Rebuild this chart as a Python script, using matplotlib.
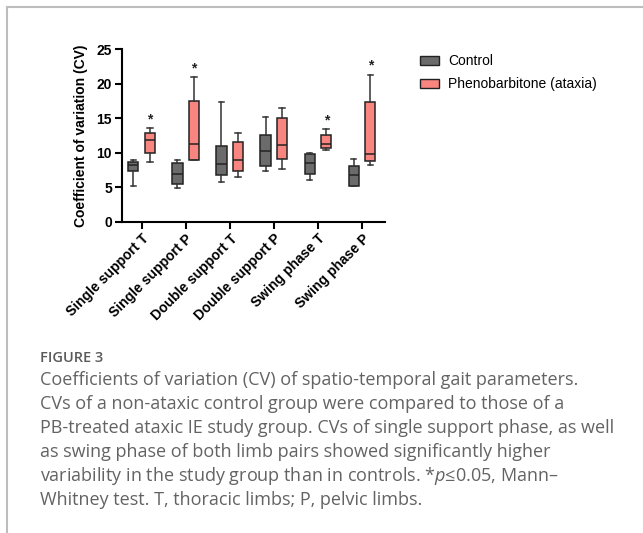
import matplotlib
matplotlib.use("Agg")
import matplotlib.pyplot as plt
from matplotlib.patches import Patch
from matplotlib.lines import Line2D

categories = ["Single support T", "Single support P", "Double support T",
              "Double support P", "Swing phase T", "Swing phase P"]

# whisker low, Q1, median, Q3, whisker high
control_low = [5.2, 4.9, 5.7, 7.4, 6.0, 5.1]
control_q1 = [7.3, 5.4, 6.7, 8.1, 6.95, 5.2]
control_med = [8.2, 6.85, 8.4, 10.3, 8.5, 6.7]
control_q3 = [8.6, 8.5, 10.9, 12.5, 9.85, 8.1]
control_high = [8.9, 8.9, 17.3, 15.1, 9.9, 9.1]

pb_low = [8.7, 8.9, 6.5, 7.6, 10.4, 8.2]
pb_q1 = [10.0, 9.0, 7.3, 9.1, 10.7, 8.8]
pb_med = [11.9, 11.2, 9.0, 11.05, 11.2, 9.75]
pb_q3 = [12.9, 17.5, 11.5, 15.0, 12.5, 17.3]
pb_high = [13.6, 20.9, 12.8, 16.5, 13.4, 21.2]

star_idx = [0, 1, 4, 5]
star_y = [13.85, 21.15, 13.65, 21.55]

caption_title = "FIGURE 3"
caption_lines = [
    "Coefficients of variation (CV) of spatio-temporal gait parameters.",
    "CVs of a non-ataxic control group were compared to those of a",
    "PB-treated ataxic IE study group. CVs of single support phase, as well",
    "as swing phase of both limb pairs showed significantly higher",
    "variability in the study group than in controls. *$p$\u22640.05, Mann\u2013",
    "Whitney test. T, thoracic limbs; P, pelvic limbs.",
]

plt.rcParams["font.family"] = ["Liberation Sans", "DejaVu Sans"]
plt.rcParams["mathtext.fontset"] = "custom"
plt.rcParams["mathtext.it"] = "Open Sans:italic"
plt.rcParams["mathtext.rm"] = "Open Sans"

gray = "#6b6b6b"
salmon = "#f8857f"

fig = plt.figure(figsize=(6.43, 5.33), dpi=100)
ax = fig.add_axes([0.1893, 0.584, 0.41, 0.324])

def stats(low, q1, med, q3, high):
    return [dict(whislo=a, q1=b, med=c, q3=d, whishi=e, fliers=[])
            for a, b, c, d, e in zip(low, q1, med, q3, high)]

off = 0.19
w = 0.23
for data, color, sign in [
        (stats(control_low, control_q1, control_med, control_q3, control_high), gray, -1),
        (stats(pb_low, pb_q1, pb_med, pb_q3, pb_high), salmon, 1)]:
    pos = [i + sign * off for i in range(len(categories))]
    ax.bxp(data, positions=pos, widths=w, patch_artist=True, showfliers=False,
           capwidths=0.13,
           boxprops=dict(facecolor=color, edgecolor="#222222", linewidth=1.1),
           medianprops=dict(color="#222222", linewidth=1.1),
           whiskerprops=dict(color="#333333", linewidth=1.1),
           capprops=dict(color="#333333", linewidth=1.1))

for i, y in zip(star_idx, star_y):
    ax.text(i + off, y, "*", ha="center", va="bottom", fontsize=10,
            fontweight="bold", color="#222222")

ax.set_xlim(-0.455, 5.53)
ax.set_ylim(0, 25)
ax.set_yticks([0, 5, 10, 15, 20, 25])
ax.set_xticks(range(len(categories)))
ax.set_xticklabels(categories, rotation=45, ha="right", rotation_mode="anchor",
                   fontsize=10, fontweight="bold")
for lab in ax.get_yticklabels():
    lab.set_fontweight("bold")
    lab.set_fontsize(10)
ax.set_ylabel("Coefficient of variation (CV)", fontsize=10, fontweight="bold",
              labelpad=6)
for s in ["top", "right"]:
    ax.spines[s].set_visible(False)
for s in ["left", "bottom"]:
    ax.spines[s].set_linewidth(1.5)
ax.tick_params(width=1.5, length=5, pad=2)

handles = [Patch(facecolor=gray, edgecolor="#222222", label="Control"),
           Patch(facecolor=salmon, edgecolor="#222222", label="Phenobarbitone (ataxia)")]
fig.legend(handles=handles, loc="upper left", bbox_to_anchor=(0.653, 0.898),
           frameon=False, fontsize=10, borderpad=0, borderaxespad=0,
           handlelength=1.37, handleheight=0.72, handletextpad=0.65,
           labelspacing=0.65)

# page frame
fig.add_artist(Line2D([0.0105, 1.0], [0.987, 0.987], transform=fig.transFigure,
                      color="#bdbdbd", linewidth=1.5))
fig.add_artist(Line2D([0.0105, 0.0105], [0.0, 0.987], transform=fig.transFigure,
                      color="#bdbdbd", linewidth=1.5))

fig.text(40 / 643, 1 - 358 / 533, caption_title, fontsize=10.5, color="#5a5a5a",
         family=["Open Sans", "DejaVu Sans"], fontweight="semibold", va="center")
for k, line in enumerate(caption_lines):
    y = 380 + k * 24
    fig.text(40 / 643, 1 - y / 533, line, fontsize=13, color="#636363",
             family=["Open Sans", "DejaVu Sans"], va="center")

fig.savefig("out.png", dpi=100)
